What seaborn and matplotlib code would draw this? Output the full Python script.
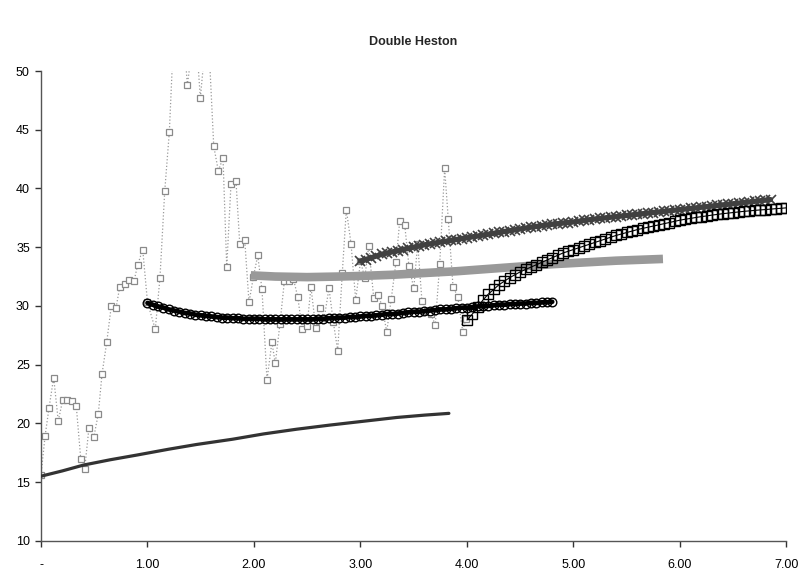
import numpy as np
import pandas as pd
import matplotlib
matplotlib.use("Agg")
import matplotlib.pyplot as plt
import seaborn as sns

# ---------------- data ----------------
title = "Double Heston"
x_ticks = [0, 1, 2, 3, 4, 5, 6, 7]
x_ticklabels = ["-", "1.00", "2.00", "3.00", "4.00", "5.00", "6.00", "7.00"]
y_ticks = [10, 15, 20, 25, 30, 35, 40, 45, 50]

# noisy market series (grey squares, dotted)
noisy_x = [0.00, 0.038, 0.075, 0.119, 0.162, 0.204, 0.244, 0.288, 0.331, 0.373,
           0.41, 0.45, 0.495, 0.538, 0.573, 0.617, 0.66, 0.704, 0.739, 0.786,
           0.829, 0.873, 0.908, 0.955, 1.0, 1.073, 1.117, 1.162, 1.205, 1.25,
           1.29, 1.33, 1.374, 1.42, 1.46, 1.496, 1.54, 1.58, 1.622, 1.665,
           1.709, 1.744, 1.784, 1.831, 1.866, 1.913, 1.953, 1.995, 2.035, 2.075,
           2.122, 2.168, 2.2, 2.244, 2.285, 2.33, 2.37, 2.41, 2.453, 2.498,
           2.535, 2.58, 2.62, 2.66, 2.704, 2.745, 2.786, 2.829, 2.867, 2.911,
           2.955, 3.0, 3.04, 3.077, 3.124, 3.167, 3.202, 3.246, 3.289, 3.333,
           3.368, 3.415, 3.455, 3.5, 3.537, 3.577, 3.622, 3.66, 3.702, 3.744,
           3.79, 3.824, 3.869, 3.913, 3.96, 3.988]
noisy_y = [15.6, 18.9, 21.3, 23.9, 20.2, 22.0, 22.0, 21.9, 21.5, 17.0,
           16.1, 19.6, 18.8, 20.8, 24.2, 26.9, 30.0, 29.8, 31.6, 31.9,
           32.2, 32.1, 33.5, 34.8, 30.3, 28.0, 32.4, 39.8, 44.8, 54.0,
           56.0, 54.5, 48.8, 52.0, 52.5, 47.7, 52.0, 51.5, 43.6, 41.5,
           42.6, 33.3, 40.4, 40.6, 35.3, 35.6, 30.3, 32.5, 34.3, 31.4,
           23.7, 26.9, 25.1, 28.5, 32.1, 32.1, 32.3, 30.8, 28.0, 28.3,
           31.6, 28.1, 29.8, 29.0, 31.5, 28.6, 26.2, 32.8, 38.2, 35.3,
           30.5, 33.8, 32.4, 35.1, 30.7, 30.9, 30.0, 27.8, 30.6, 33.7,
           37.2, 36.9, 33.4, 31.5, 35.3, 30.4, 29.6, 29.3, 28.4, 33.6,
           41.7, 37.4, 31.6, 30.8, 27.8, 28.9]
assert len(noisy_x) == len(noisy_y)

# dark solid line
dark_x = [0.0, 0.2, 0.4, 0.65, 0.9, 1.2, 1.46, 1.8, 2.09, 2.4, 2.71, 3.0, 3.34, 3.6, 3.83]
dark_y = [15.5, 15.95, 16.45, 16.9, 17.3, 17.8, 18.2, 18.65, 19.1, 19.5, 19.85, 20.15, 20.5, 20.7, 20.85]

# grey thick band
band_x = [1.97, 2.2, 2.5, 2.8, 3.0, 3.3, 3.6, 3.9, 4.2, 4.5, 4.8, 5.1, 5.4, 5.84]
band_y = [32.6, 32.5, 32.45, 32.5, 32.55, 32.65, 32.8, 32.95, 33.15, 33.35, 33.55, 33.7, 33.85, 34.0]

# black circles series (sampled every 0.05 from 1.00)
circ_start, circ_step = 1.0, 0.05
circ_y = [30.25, 30.1, 29.95, 29.85, 29.7, 29.6, 29.5, 29.4, 29.35, 29.25,
          29.2, 29.15, 29.1, 29.05, 29.0, 29.0, 28.95, 28.95, 28.9, 28.9,
          28.9, 28.9, 28.85, 28.85, 28.85, 28.85, 28.85, 28.85, 28.85, 28.85,
          28.85, 28.85, 28.9, 28.9, 28.95, 28.95, 29.0, 29.0, 29.05, 29.05,
          29.1, 29.15, 29.15, 29.2, 29.25, 29.3, 29.3, 29.35, 29.4, 29.45,
          29.5, 29.5, 29.55, 29.6, 29.65, 29.7, 29.7, 29.75, 29.8, 29.85,
          29.85, 29.9, 29.95, 30.0, 30.0, 30.05, 30.1, 30.1, 30.15, 30.15,
          30.2, 30.2, 30.25, 30.25, 30.3, 30.3, 30.35]

# dark X series (sampled every 0.05 from 3.00)
xs_start, xs_step = 3.0, 0.05
xs_y = [33.8, 33.95, 34.1, 34.25, 34.4, 34.5, 34.6, 34.7, 34.8, 34.9,
        35.0, 35.1, 35.2, 35.28, 35.35, 35.43, 35.5, 35.58, 35.65, 35.73,
        35.8, 35.88, 35.95, 36.03, 36.1, 36.18, 36.25, 36.33, 36.4, 36.48,
        36.55, 36.63, 36.7, 36.76, 36.83, 36.89, 36.95, 37.0, 37.05, 37.1,
        37.15, 37.21, 37.28, 37.34, 37.4, 37.45, 37.5, 37.55, 37.6, 37.65,
        37.7, 37.75, 37.8, 37.85, 37.9, 37.95, 38.0, 38.05, 38.1, 38.15,
        38.2, 38.25, 38.3, 38.35, 38.4, 38.45, 38.5, 38.55, 38.6, 38.65,
        38.7, 38.75, 38.8, 38.85, 38.9, 38.95, 39.0, 39.05]

# black open squares series (sampled every 0.05 from 4.00)
sq_start, sq_step = 4.0, 0.05
sq_y = [28.8, 29.3, 29.9, 30.5, 31.0, 31.4, 31.8, 32.1, 32.4, 32.65,
        32.9, 33.1, 33.3, 33.5, 33.7, 33.9, 34.1, 34.3, 34.5, 34.65,
        34.8, 34.95, 35.1, 35.25, 35.4, 35.55, 35.7, 35.85, 36.0, 36.12,
        36.25, 36.37, 36.5, 36.6, 36.7, 36.8, 36.9, 37.0, 37.1, 37.2,
        37.3, 37.38, 37.45, 37.53, 37.6, 37.66, 37.73, 37.79, 37.85, 37.9,
        37.95, 38.0, 38.05, 38.09, 38.13, 38.17, 38.2, 38.24, 38.28, 38.31,
        38.35]


def grid(start, step, vals):
    return [round(start + step * i, 4) for i in range(len(vals))]


circ_x = grid(circ_start, circ_step, circ_y)
xs_x = grid(xs_start, xs_step, xs_y)
sq_x = grid(sq_start, sq_step, sq_y)

# ---------------- drawing ----------------
sns.set_theme(style="white")
plt.rcParams["font.family"] = ["Liberation Sans", "DejaVu Sans"]

fig = plt.figure(figsize=(8.03, 5.71), dpi=100)
ax = fig.add_axes([41 / 803, 1 - 540.8 / 571, (786.5 - 41) / 803, (540.8 - 71) / 571])

common = dict(sort=False, estimator=None, ax=ax, legend=False)

sns.lineplot(x=noisy_x, y=noisy_y, color="#9a9a9a", linestyle=":", linewidth=0.9,
             marker="s", markersize=4.4, markerfacecolor="white",
             markeredgecolor="#8a8a8a", markeredgewidth=0.9, zorder=2, **common)

sns.lineplot(x=dark_x, y=dark_y, color="#333333", linewidth=2.3, zorder=3, **common)

sns.lineplot(x=circ_x, y=circ_y, color="black", linewidth=3.4,
             marker="o", markersize=6.2, markerfacecolor="none",
             markeredgecolor="black", markeredgewidth=1.0, zorder=4, **common)

sns.lineplot(x=band_x, y=band_y, color="#999999", linewidth=6.2,
             solid_capstyle="butt", zorder=5, **common)

sns.lineplot(x=xs_x, y=xs_y, color="#404040", linewidth=3.8,
             marker="x", markersize=6.5, markeredgecolor="#404040",
             markeredgewidth=1.2, zorder=6, **common)

sns.lineplot(x=sq_x, y=sq_y, color="black", linewidth=0.8,
             marker="s", markersize=6.8, markerfacecolor="none",
             markeredgecolor="black", markeredgewidth=1.0, zorder=7, **common)

ax.set_xlim(0, 7)
ax.set_ylim(10, 50)
ax.set_xticks(x_ticks)
ax.set_xticklabels(x_ticklabels)
ax.set_yticks(y_ticks)
ax.set_xlabel("")
ax.set_ylabel("")

for side in ["top", "right"]:
    ax.spines[side].set_visible(False)
for side in ["left", "bottom"]:
    ax.spines[side].set_color("#555555")
    ax.spines[side].set_linewidth(1.0)

ax.tick_params(axis="x", direction="out", length=4, width=1, color="#333333",
               pad=9, labelsize=9, labelcolor="black", bottom=True)
ax.tick_params(axis="y", direction="out", length=4, width=1, color="#333333",
               pad=4, labelsize=9, labelcolor="black", left=True)
ax.grid(False)
ax.set_facecolor("white")

fig.text(0.515, 1 - 42 / 571, title, ha="center", va="center",
         fontsize=9, fontweight="bold")

fig.savefig("out.png", dpi=100, facecolor="white")
